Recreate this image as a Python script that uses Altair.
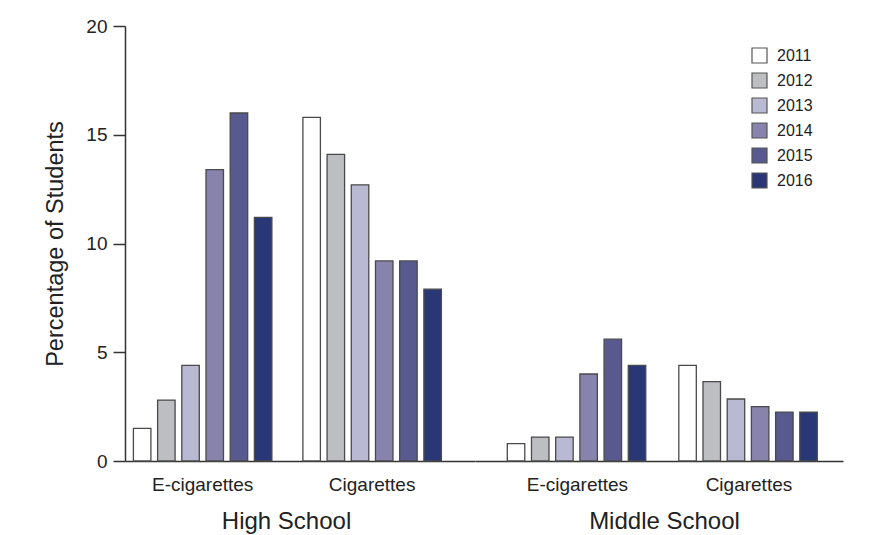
import altair as alt
import pandas as pd

years = ["2011", "2012", "2013", "2014", "2015", "2016"]
products = ["E-cigarettes", "Cigarettes"]
hs_ecig = [1.5, 2.8, 4.4, 13.4, 16.0, 11.2]
hs_cig = [15.8, 14.1, 12.7, 9.2, 9.2, 7.9]
ms_ecig = [0.8, 1.1, 1.1, 4.0, 5.6, 4.4]
ms_cig = [4.4, 3.65, 2.85, 2.5, 2.25, 2.25]
colors = ["#ffffff", "#bdbec2", "#bab9d4", "#8883ad", "#585a8f", "#2a3776"]
y_ticks = [0, 5, 10, 15, 20]

FONT = "Liberation Sans"
TEXT = "#222222"


def panel(school, vals_e, vals_c, width, pi, po, align, title_x, show_y, show_legend):
    df = pd.DataFrame({
        "Product": [p for p in products for _ in years],
        "Year": years * 2,
        "Value": vals_e + vals_c,
    })
    if show_y:
        y_axis = alt.Axis(values=y_ticks, tickSize=12, labelFontSize=19, titleFontSize=23.5,
                          title="Percentage of Students", grid=False, domainColor="#333333",
                          domainWidth=1.5, tickColor="#333333", tickWidth=1.5, labelPadding=6,
                          titlePadding=18, titleFontWeight="normal", labelColor=TEXT,
                          titleColor=TEXT, labelFont=FONT, titleFont=FONT)
    else:
        y_axis = None
    x_axis = alt.Axis(title=school, labelAngle=0, ticks=False, tickSize=0, labelFontSize=19,
                      titleFontSize=24, labelPadding=14, titlePadding=15, titleFontWeight="normal",
                      domainColor="#333333", domainWidth=1.5, titleX=title_x, labelColor=TEXT,
                      titleColor=TEXT, labelFont=FONT, titleFont=FONT)
    if show_legend:
        legend = alt.Legend(orient="none", legendX=276, legendY=21, title=None, symbolType="square",
                            symbolSize=225, labelFontSize=16, rowPadding=4,
                            symbolStrokeColor="#555555", symbolStrokeWidth=1.2, labelOffset=9,
                            labelFont=FONT, labelColor=TEXT)
    else:
        legend = None
    return alt.Chart(df).mark_bar(stroke="#4a4a4a", strokeWidth=1.3).encode(
        x=alt.X("Product:N", sort=products, axis=x_axis,
                scale=alt.Scale(paddingInner=pi, paddingOuter=po, align=align)),
        xOffset=alt.XOffset("Year:N", sort=years, scale=alt.Scale(paddingInner=0.277)),
        y=alt.Y("Value:Q", axis=y_axis, scale=alt.Scale(domain=[0, 20], nice=False)),
        color=alt.Color("Year:N", sort=years, legend=legend,
                        scale=alt.Scale(domain=years, range=colors)),
    ).properties(width=width, height=435)


hs = panel("High School", hs_ecig, hs_cig, 350, 0.183, 0.124, 0.2, 161, True, False)
ms = panel("Middle School", ms_ecig, ms_cig, 368, 0.1825, 0.164, 0.574, 189, False, True)

chart = alt.hconcat(hs, ms, spacing=0).resolve_legend(color="independent").properties(
    padding={"left": 35, "top": 9, "right": 5, "bottom": 5}
).configure(font=FONT, background="white").configure_view(strokeWidth=0, stroke=None)

chart.save("out.html", embed_options={"renderer": "svg", "actions": False})
